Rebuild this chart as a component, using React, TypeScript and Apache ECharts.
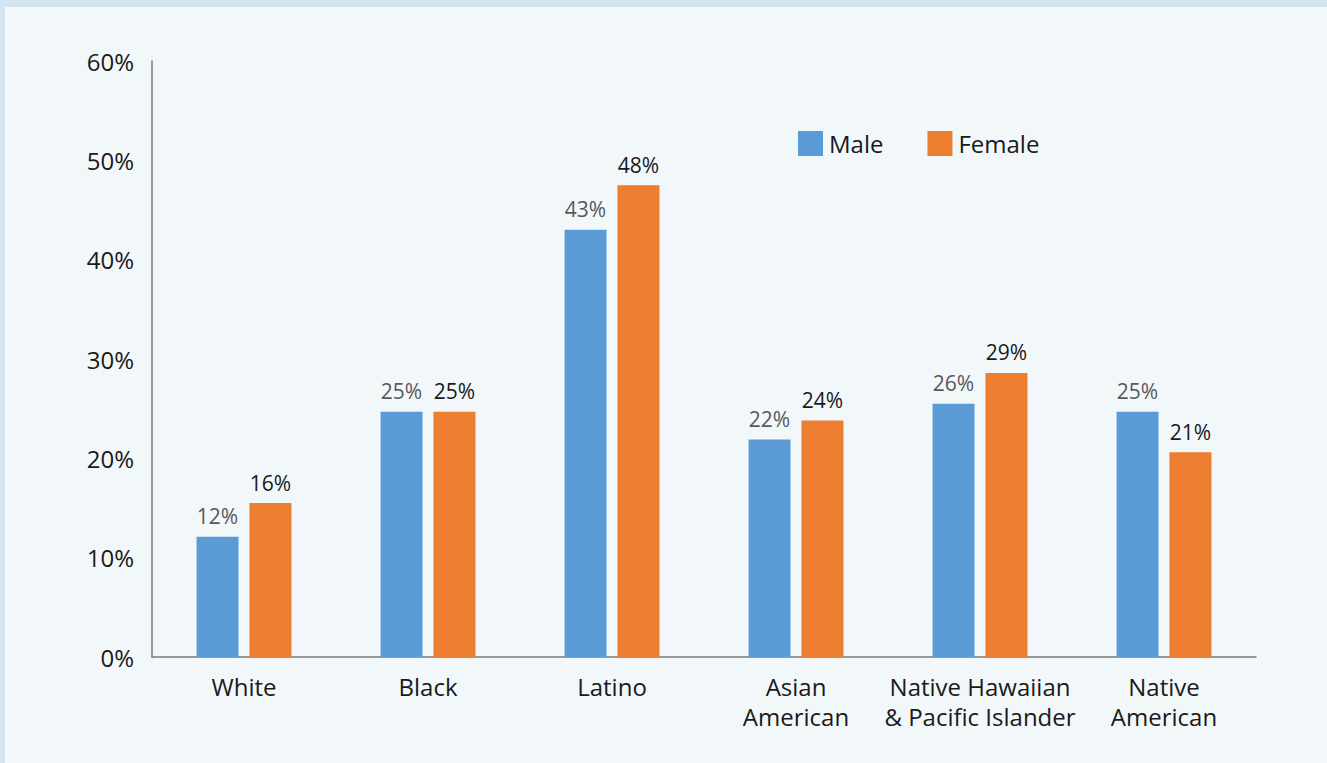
import React, { useEffect, useRef } from "react";
import * as echarts from "echarts";

const categories = ["White", "Black", "Latino", "Asian\nAmerican", "Native Hawaiian\n& Pacific Islander", "Native\nAmerican"];
const maleValues = [12.1, 24.7, 43.0, 21.9, 25.5, 24.7];
const femaleValues = [15.5, 24.7, 47.5, 23.8, 28.6, 20.6];
const maleLabels = ["12%", "25%", "43%", "22%", "26%", "25%"];
const femaleLabels = ["16%", "25%", "48%", "24%", "29%", "21%"];

export default function App() {
  const ref = useRef<HTMLDivElement>(null);
  useEffect(() => {
    if (!ref.current) return;
    const chart = echarts.init(ref.current, null, { renderer: "svg" });
    const font = "Open Sans";
    chart.setOption({
      animation: false,
      backgroundColor: "#f2f7fa",
      textStyle: { fontFamily: font },
      graphic: [
        { type: "rect", left: 0, top: 0, shape: { width: 1327, height: 7 }, style: { fill: "#d5e5ef" }, z: 100 },
        { type: "rect", left: 0, top: 0, shape: { width: 5, height: 763 }, style: { fill: "#d5e5ef" }, z: 100 },
      ],
      legend: {
        left: 798,
        top: 131,
        padding: 0,
        itemWidth: 25,
        itemHeight: 25,
        itemGap: 44,
        icon: "rect",
        textStyle: { fontSize: 24, color: "#1a1a1a", fontFamily: font, padding: [0, 0, 0, 1] },
        data: ["Male", "Female"],
      },
      grid: { left: 152, right: 71, top: 61, bottom: 106 },
      xAxis: {
        type: "category",
        data: categories,
        axisLine: { lineStyle: { color: "#7a7a7a", width: 1.5 } },
        axisTick: { show: false },
        axisLabel: { fontSize: 24, color: "#1a1a1a", margin: 14, lineHeight: 30, fontFamily: font, interval: 0 },
      },
      yAxis: {
        type: "value",
        min: 0,
        max: 60,
        interval: 10,
        splitLine: { show: false },
        axisLine: { show: true, lineStyle: { color: "#7a7a7a", width: 1.5 } },
        axisTick: { show: false },
        axisLabel: { fontSize: 24, color: "#1a1a1a", margin: 18, fontFamily: font, formatter: "{value}%" },
      },
      series: [
        {
          name: "Male",
          type: "bar",
          data: maleValues,
          barWidth: 42,
          barGap: "26%",
          itemStyle: { color: "#5b9bd5" },
          label: {
            show: true,
            position: "top",
            distance: 10,
            fontSize: 21,
            color: "#595959",
            fontFamily: font,
            formatter: (p: any) => maleLabels[p.dataIndex],
          },
        },
        {
          name: "Female",
          type: "bar",
          data: femaleValues,
          barWidth: 42,
          itemStyle: { color: "#ed7d31" },
          label: {
            show: true,
            position: "top",
            distance: 10,
            fontSize: 21,
            color: "#1a1a1a",
            fontFamily: font,
            formatter: (p: any) => femaleLabels[p.dataIndex],
          },
        },
      ],
    });
    return () => chart.dispose();
  }, []);
  return <div ref={ref} style={{ position: "fixed", left: 0, top: 0, width: 1327, height: 763 }} />;
}
